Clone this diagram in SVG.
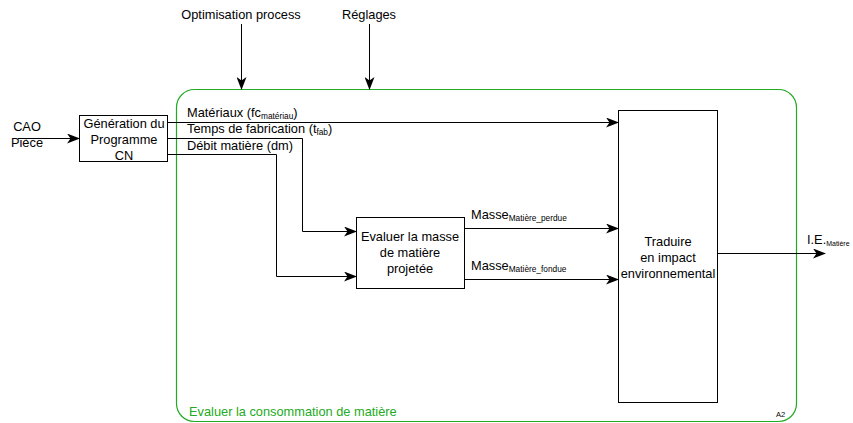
<svg xmlns="http://www.w3.org/2000/svg" width="853" height="423" viewBox="0 0 853 423">
<style>
text{font-family:"Liberation Sans",Arial,sans-serif;font-size:12.8px;fill:#000}
.sub{font-size:8.3px}
.c{text-anchor:middle}
.box{fill:#fff;stroke:#000;stroke-width:1}
.ln{fill:none;stroke:#000;stroke-width:1}
</style>
<defs>
<marker id="ah" viewBox="0 0 13 10" refX="12" refY="5" markerWidth="13" markerHeight="10" markerUnits="userSpaceOnUse" orient="auto">
<path d="M0,0 L13,5 L0,10 L3.5,5 Z" fill="#000"/>
</marker>
</defs>
<g id="frame">
<rect x="176.5" y="89.5" width="620" height="332" rx="18" ry="18" fill="none" stroke="#22aa22" stroke-width="1.2"/>
<text x="189" y="416" style="fill:#22aa22">Evaluer la consommation de matière</text>
<text x="776" y="417" style="font-size:7.5px">A2</text>
</g>
<g id="connectors">
<line class="ln" x1="18" y1="138.5" x2="79" y2="138.5" marker-end="url(#ah)"/>
<line class="ln" x1="241.5" y1="24" x2="241.5" y2="89" marker-end="url(#ah)"/>
<line class="ln" x1="369.5" y1="24" x2="369.5" y2="89" marker-end="url(#ah)"/>
<line class="ln" x1="168" y1="122.5" x2="618" y2="122.5" marker-end="url(#ah)"/>
<polyline class="ln" points="168,138.5 302.5,138.5 302.5,231.5 356,231.5" marker-end="url(#ah)"/>
<polyline class="ln" points="168,154.5 276.5,154.5 276.5,276.5 356,276.5" marker-end="url(#ah)"/>
<line class="ln" x1="464" y1="228.5" x2="618" y2="228.5" marker-end="url(#ah)"/>
<line class="ln" x1="464" y1="279.5" x2="618" y2="279.5" marker-end="url(#ah)"/>
<line class="ln" x1="718" y1="253.5" x2="825" y2="253.5" marker-end="url(#ah)"/>
</g>
<g id="labels">
<text class="c" x="27" y="131">CAO</text>
<text class="c" x="27" y="147">Pièce</text>
<text class="c" x="241" y="19">Optimisation process</text>
<text class="c" x="369" y="19">Réglages</text>
<text x="187" y="117">Matériaux (fc<tspan class="sub" dy="2">matériau</tspan><tspan dy="-2">)</tspan></text>
<text x="187" y="133">Temps de fabrication (t<tspan class="sub" dy="2">fab</tspan><tspan dy="-2">)</tspan></text>
<text x="187" y="150">Débit matière (dm)</text>
<text x="471" y="219">Masse<tspan class="sub" dy="2">Matière_perdue</tspan></text>
<text x="471" y="270">Masse<tspan class="sub" dy="2">Matière_fondue</tspan></text>
<text x="807" y="244">I.E.<tspan class="sub" dy="2" style="font-size:7px">Matière</tspan></text>
</g>
<g id="gen">
<rect class="box" x="79.5" y="115.5" width="88" height="46"/>
<text class="c" x="124" y="128">Génération du</text>
<text class="c" x="124" y="144">Programme</text>
<text class="c" x="124" y="160">CN</text>
</g>
<g id="evaluer">
<rect class="box" x="356.5" y="217.5" width="108" height="71"/>
<text class="c" x="410" y="241">Evaluer la masse</text>
<text class="c" x="410" y="257">de matière</text>
<text class="c" x="410" y="273">projetée</text>
</g>
<g id="traduire">
<rect class="box" x="618.5" y="110.5" width="99" height="292"/>
<text class="c" x="668" y="246">Traduire</text>
<text class="c" x="668" y="262">en impact</text>
<text class="c" x="668" y="278">environnemental</text>
</g>
</svg>
